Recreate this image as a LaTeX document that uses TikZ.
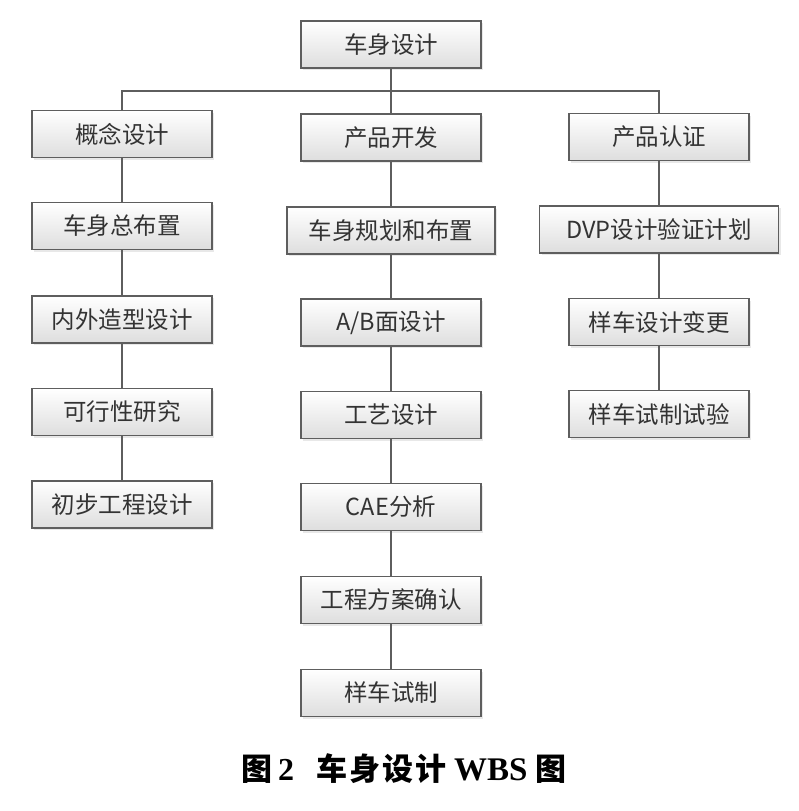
\documentclass[tikz,border=0pt]{standalone}
\usepackage{fontspec}
\usepackage{tikz}
\usetikzlibrary{shadows}
\setmainfont{Carlito}
\newfontfamily\cjk{Noto Sans CJK SC}
\newfontfamily\capser{Liberation Serif}
\definecolor{edge}{HTML}{5E5E5E}
\definecolor{ink}{HTML}{333333}

\begin{document}
\begin{tikzpicture}[x=1pt,y=-1pt,
  wbs/.style={draw=edge, line width=1.1pt, rectangle, minimum width=180pt, minimum height=47pt,
    top color=white, bottom color=black!13, text=ink, font=\cjk\fontsize{23.5}{23.5}\selectfont,
    drop shadow={opacity=0.18, shadow xshift=2pt, shadow yshift=-2pt}},
  link/.style={edge, line width=1.4pt}]
\useasboundingbox (0,0) rectangle (798,811);
% top
\node[wbs] (sj) at (391,44.5) {车身设计};
\coordinate (bus) at (391,91);
% first level
\node[wbs] (gn) at (122,134) {概念设计};
\node[wbs] (cp) at (391,137.5) {产品开发};
\node[wbs] (rz) at (659,137) {产品认证};
% left column
\node[wbs] (zbz) at (122,226) {车身总布置};
\node[wbs] (zx) at (122,319.5) {内外造型设计};
\node[wbs] (kx) at (122,412) {可行性研究};
\node[wbs] (cb) at (122,504.5) {初步工程设计};
% middle column
\node[wbs, minimum width=208pt] (gh) at (391,230.5) {车身规划和布置};
\node[wbs] (ab) at (391,322.5) {A/B面设计};
\node[wbs] (gy) at (391,415) {工艺设计};
\node[wbs] (cae) at (391,507) {CAE分析};
\node[wbs] (fa) at (391,600) {工程方案确认};
\node[wbs] (sz) at (391,693) {样车试制};
% right column
\node[wbs, minimum width=239pt] (dvp) at (659,229.5) {DVP设计验证计划};
\node[wbs] (bg) at (659,322) {样车设计变更};
\node[wbs] (sy) at (659,414) {样车试制试验};
% caption
\node[anchor=west, inner sep=0pt, font=\bfseries] (cap) at (241,769)
  {{\cjk\fontsize{31}{31}\selectfont 图}\hspace{6pt}{\capser\fontsize{32}{32}\selectfont 2}\hspace{22pt}%
   {\cjk\fontsize{31}{31}\selectfont 车\hspace{2pt}身\hspace{2pt}设\hspace{2pt}计}\hspace{8pt}%
   {\capser\fontsize{33}{33}\selectfont WBS}\hspace{8pt}{\cjk\fontsize{31}{31}\selectfont 图}};
% connectors
\draw[link] (sj) -- (cp);
\draw[link] (gn.north) |- (bus) -| (rz.north);
\draw[link] (gn) -- (zbz); \draw[link] (zbz) -- (zx);
\draw[link] (zx) -- (kx); \draw[link] (kx) -- (cb);
\draw[link] (cp) -- (gh); \draw[link] (gh) -- (ab); \draw[link] (ab) -- (gy);
\draw[link] (gy) -- (cae); \draw[link] (cae) -- (fa); \draw[link] (fa) -- (sz);
\draw[link] (rz) -- (dvp); \draw[link] (dvp) -- (bg); \draw[link] (bg) -- (sy);
\end{tikzpicture}
\end{document}
